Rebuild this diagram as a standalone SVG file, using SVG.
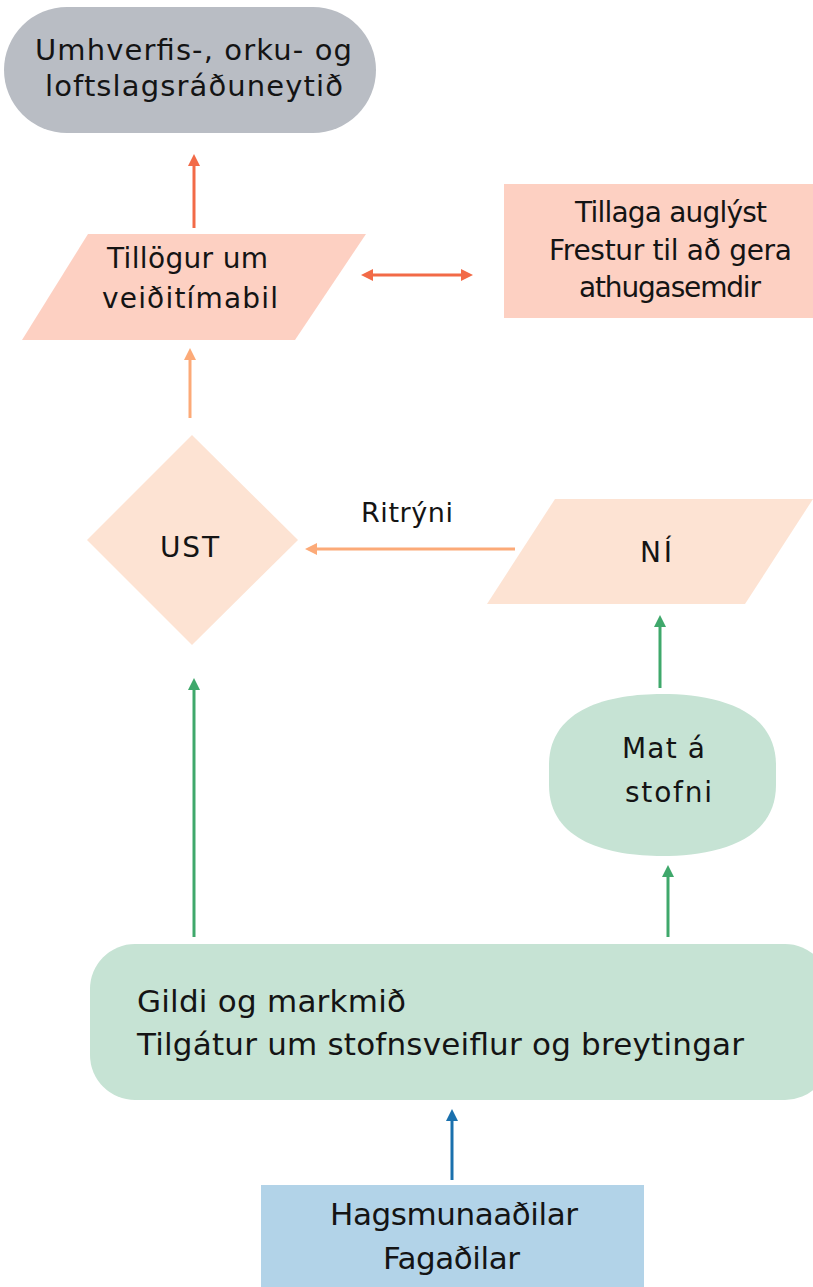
<svg xmlns="http://www.w3.org/2000/svg" width="813" height="1287" viewBox="0 0 813 1287">
<style>
text{font-family:"DejaVu Sans","Open Sans",sans-serif;fill:#141414}
.m{text-anchor:start}
.ln{fill:none;stroke-width:3}
</style>
<defs>
<marker id="mr" markerUnits="userSpaceOnUse" markerWidth="14" markerHeight="14" refX="7" refY="7" orient="auto-start-reverse" viewBox="0 0 14 14"><path d="M1,1 L13,7 L1,13 z" fill="#f26a47"/></marker>
<marker id="mo" markerUnits="userSpaceOnUse" markerWidth="14" markerHeight="14" refX="7" refY="7" orient="auto-start-reverse" viewBox="0 0 14 14"><path d="M1,1 L13,7 L1,13 z" fill="#fcaa78"/></marker>
<marker id="mg" markerUnits="userSpaceOnUse" markerWidth="14" markerHeight="14" refX="7" refY="7" orient="auto-start-reverse" viewBox="0 0 14 14"><path d="M1,1 L13,7 L1,13 z" fill="#3fa86b"/></marker>
<marker id="mb" markerUnits="userSpaceOnUse" markerWidth="14" markerHeight="14" refX="7" refY="7" orient="auto-start-reverse" viewBox="0 0 14 14"><path d="M1,1 L13,7 L1,13 z" fill="#1a70ad"/></marker>
</defs>
<rect width="813" height="1287" fill="#ffffff"/>
<g id="connectors">
<line class="ln" x1="194" y1="228" x2="194" y2="160" stroke="#f26a47" marker-end="url(#mr)"/>
<line class="ln" x1="367" y1="275" x2="467" y2="275" stroke="#f26a47" marker-start="url(#mr)" marker-end="url(#mr)"/>
<line class="ln" x1="190" y1="418" x2="190" y2="354" stroke="#fcaa78" marker-end="url(#mo)"/>
<line class="ln" x1="515" y1="549" x2="311" y2="549" stroke="#fcaa78" marker-end="url(#mo)"/>
<text x="361" y="522" font-size="27" class="m" textLength="92" lengthAdjust="spacing">Ritrýni</text>
<line class="ln" x1="660" y1="688" x2="660" y2="621" stroke="#3fa86b" marker-end="url(#mg)"/>
<line class="ln" x1="668" y1="937" x2="668" y2="871" stroke="#3fa86b" marker-end="url(#mg)"/>
<line class="ln" x1="194" y1="937" x2="194" y2="684" stroke="#3fa86b" marker-end="url(#mg)"/>
<line class="ln" x1="452" y1="1180" x2="452" y2="1115" stroke="#1a70ad" marker-end="url(#mb)"/>
</g>
<g id="ministry">
<rect x="4" y="7" width="372" height="126" rx="63" fill="#b9bdc4"/>
<text x="35" y="60" font-size="29" class="m" textLength="317" lengthAdjust="spacing">Umhverfis-, orku- og</text>
<text x="45" y="96" font-size="29" class="m" textLength="298" lengthAdjust="spacing">loftslagsráðuneytið</text>
</g>
<g id="tillogur">
<polygon points="88,234 366,234 295,340 22,340" fill="#fdd0c2"/>
<text x="107" y="268" font-size="28" class="m" textLength="161" lengthAdjust="spacing">Tillögur um</text>
<text x="102" y="308" font-size="28" class="m" textLength="176" lengthAdjust="spacing">veiðitímabil</text>
</g>
<g id="tillaga">
<rect x="504" y="184" width="309" height="134" fill="#fdd0c2"/>
<text x="575" y="222" font-size="28" class="m" textLength="192" lengthAdjust="spacing">Tillaga auglýst</text>
<text x="549" y="260" font-size="28" class="m" textLength="243" lengthAdjust="spacing">Frestur til að gera</text>
<text x="579" y="297" font-size="28" class="m" textLength="182" lengthAdjust="spacing">athugasemdir</text>
</g>
<g id="ust">
<polygon points="192,435 298,540 192,645 87,540" fill="#fde3d3"/>
<text x="160" y="557" font-size="28" class="m" textLength="59" lengthAdjust="spacing">UST</text>
</g>
<g id="ni">
<polygon points="555,499 813,499 745,604 487,604" fill="#fde3d3"/>
<text x="640" y="562" font-size="28" class="m" textLength="32" lengthAdjust="spacing">NÍ</text>
</g>
<g id="mat">
<path d="M549,765 C549,708 610,694 662,694 C714,694 776,708 776,765 L776,785 C776,842 714,856 662,856 C610,856 549,842 549,785 Z" fill="#c6e3d4"/>
<text x="622" y="758" font-size="28" class="m" textLength="83" lengthAdjust="spacing">Mat á</text>
<text x="625" y="802" font-size="28" class="m" textLength="87" lengthAdjust="spacing">stofni</text>
</g>
<g id="gildi">
<rect x="90" y="944" width="740" height="156" rx="45" fill="#c6e3d4"/>
<text x="137" y="1012" font-size="31" class="m" textLength="269" lengthAdjust="spacing">Gildi og markmið</text>
<text x="137" y="1055" font-size="31" class="m" textLength="607" lengthAdjust="spacing">Tilgátur um stofnsveiflur og breytingar</text>
</g>
<g id="hagsmuna">
<rect x="261" y="1185" width="383" height="110" fill="#b2d3e8"/>
<text x="330" y="1225" font-size="31" class="m" textLength="248" lengthAdjust="spacing">Hagsmunaaðilar</text>
<text x="383" y="1269" font-size="31" class="m" textLength="137" lengthAdjust="spacing">Fagaðilar</text>
</g>
</svg>
